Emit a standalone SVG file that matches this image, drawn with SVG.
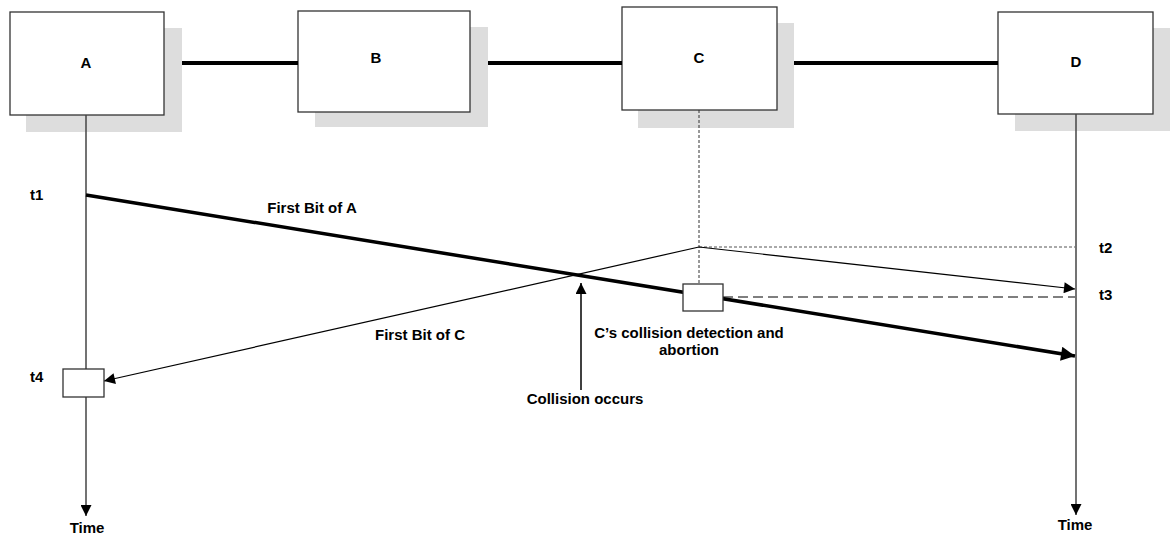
<svg xmlns="http://www.w3.org/2000/svg" width="1170" height="536" viewBox="0 0 1170 536">
<style>
.box{fill:#fff;stroke:#333;stroke-width:1.3}
.shadow{fill:#ddd;stroke:none}
.lbl{font-family:"Liberation Sans",Arial,sans-serif;font-weight:bold;font-size:15px;fill:#000}
.link{stroke:#000;stroke-width:4}
.life{stroke:#444;stroke-width:1.5;fill:none}
</style>
<defs>
<marker id="big" viewBox="0 0 10 10" refX="10" refY="5" markerWidth="27" markerHeight="14" markerUnits="userSpaceOnUse" orient="auto"><path d="M0,0 L10,5 L0,10 z" fill="#000"/></marker>
<marker id="small" viewBox="0 0 10 10" refX="10" refY="5" markerWidth="18" markerHeight="11" markerUnits="userSpaceOnUse" orient="auto"><path d="M0,0 L10,5 L0,10 z" fill="#000"/></marker>
</defs>
<g id="A"><rect class="shadow" x="26" y="28" width="156" height="104"/><rect class="box" x="10" y="12" width="154" height="103"/><text class="lbl" x="86" y="68" text-anchor="middle">A</text></g>
<g id="B"><rect class="shadow" x="315" y="27" width="173" height="100"/><rect class="box" x="298" y="11" width="172" height="101"/><text class="lbl" x="376" y="63" text-anchor="middle">B</text></g>
<g id="C"><rect class="shadow" x="638" y="23" width="156" height="105"/><rect class="box" x="622" y="7" width="155" height="103"/><text class="lbl" x="699" y="63" text-anchor="middle">C</text></g>
<g id="D"><rect class="shadow" x="1015" y="28" width="155" height="103"/><rect class="box" x="998" y="12" width="155" height="102"/><text class="lbl" x="1076" y="67" text-anchor="middle">D</text></g>
<g id="connectors">
<line class="link" x1="182" y1="63" x2="298" y2="63"/>
<line class="link" x1="488" y1="63" x2="622" y2="63"/>
<line class="link" x1="794" y1="63" x2="998" y2="63"/>
<line class="life" x1="86" y1="115" x2="86" y2="369"/>
<line class="life" x1="86" y1="397" x2="86" y2="516" marker-end="url(#small)"/>
<line class="life" x1="1076" y1="114" x2="1076" y2="515" marker-end="url(#small)"/>
<line x1="699" y1="110" x2="699" y2="284" stroke="#333" stroke-width="1" stroke-dasharray="3,2"/>
<line x1="699" y1="247" x2="1075" y2="247" stroke="#555" stroke-width="1" stroke-dasharray="3,2"/>
<line x1="723" y1="297" x2="1075" y2="297" stroke="#000" stroke-width="1.2" stroke-dasharray="10,5"/>
<line x1="86" y1="195" x2="1075" y2="356" stroke="#000" stroke-width="3.5" marker-end="url(#big)"/>
<line x1="699" y1="247" x2="1075" y2="289" stroke="#000" stroke-width="1.2" marker-end="url(#small)"/>
<line x1="699" y1="247" x2="104" y2="381" stroke="#000" stroke-width="1.2" marker-end="url(#small)"/>
<line x1="581" y1="390" x2="581" y2="283" stroke="#000" stroke-width="1.5" marker-end="url(#small)"/>
</g>
<g id="boxC"><rect class="box" x="683" y="284" width="40" height="27"/></g>
<g id="boxA"><rect class="box" x="63" y="369" width="41" height="28"/></g>
<g id="labels">
<text class="lbl" x="30" y="200">t1</text>
<text class="lbl" x="30" y="382">t4</text>
<text class="lbl" x="1099" y="253">t2</text>
<text class="lbl" x="1099" y="300">t3</text>
<text class="lbl" x="312" y="213" text-anchor="middle">First Bit of A</text>
<text class="lbl" x="420" y="340" text-anchor="middle">First Bit of C</text>
<text class="lbl" x="689" y="338" text-anchor="middle">C’s collision detection and</text>
<text class="lbl" x="689" y="355" text-anchor="middle">abortion</text>
<text class="lbl" x="585" y="404" text-anchor="middle">Collision occurs</text>
<text class="lbl" x="87" y="533" text-anchor="middle">Time</text>
<text class="lbl" x="1075" y="530" text-anchor="middle">Time</text>
</g>
</svg>
